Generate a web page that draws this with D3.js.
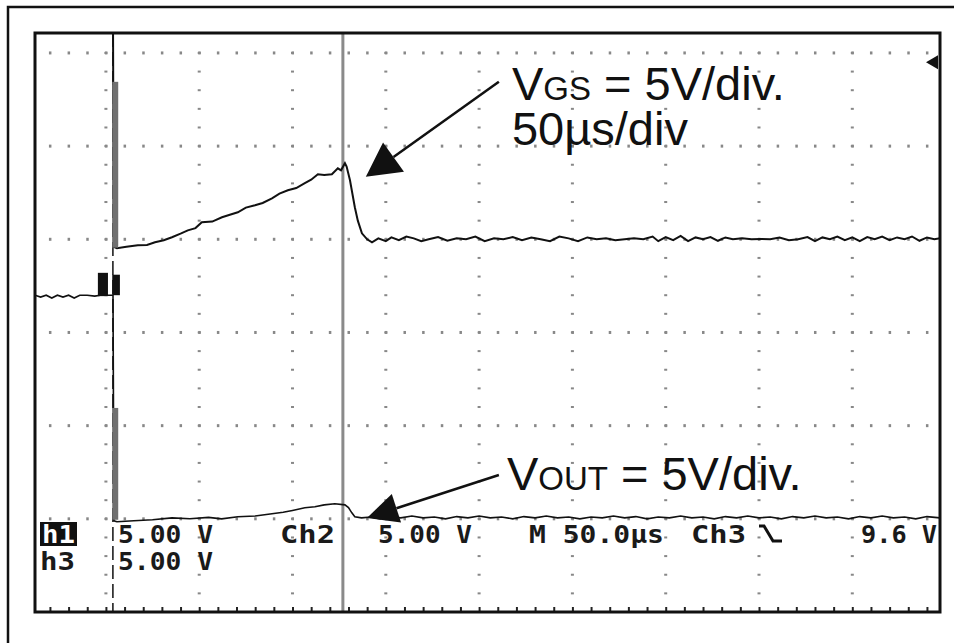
<!DOCTYPE html>
<html>
<head>
<meta charset="utf-8">
<script src="https://cdn.jsdelivr.net/npm/d3@7"></script>
<style>
  body { margin: 0; background: #fff; }
  svg { display: block; }
</style>
</head>
<body>
<div id="chart-container"></div>
<script>
// Time in µs (0 = first graticule line), values in volts
const vgsTrace = [
  [-38, 12], [3.8, 12], [4.2, -0.4], [5.9, -0.48], [11, -0.4], [17.1, -0.32], [22, -0.3],
  [26.3, -0.16], [31, -0.05], [35.4, 0.11], [40, 0.3], [43.9, 0.48], [48, 0.6], [51.4, 0.91],
  [57, 0.95], [62.2, 1.18], [66, 1.3], [70.7, 1.45], [75, 1.7], [79.9, 1.83], [84, 1.95],
  [89, 2.2], [93, 2.45], [97.5, 2.63], [102, 2.75], [106.6, 3.01], [110, 3.2], [113.6, 3.49],
  [117, 3.45], [121.1, 3.49], [124.3, 3.81], [126, 3.7], [128.1, 4.08], [129, 3.9],
  [130.8, 3.17], [133.4, 1.72], [135, 1.0], [137.2, 0.32], [140, 0.0], [142.6, -0.16],
  [146, 0.05], [150, -0.1], [153, 0.1], [157, -0.05], [161, 0.15], [165, 0.05], [169, -0.1],
  [173, 0.0], [178, 0.12], [183, -0.08], [188, 0.05], [193, 0.0], [198, 0.15], [203, -0.1],
  [208, 0.05], [213, 0.0], [218, 0.12], [223, -0.05], [228, 0.1], [233, 0.0], [238, -0.1],
  [243, 0.15], [248, 0.05], [253, -0.1], [258, 0.1], [263, 0.0], [268, 0.05], [273, -0.05],
  [278, 0.0], [283, 0.05], [288, 0.0], [293, 0.15], [296, -0.1], [300, 0.12], [304, -0.05],
  [308, 0.18], [312, -0.1], [316, 0.1], [320, 0.0], [324, 0.12], [328, -0.08], [332, 0.1],
  [336, 0.0], [341, 0.05], [346, 0.0], [351, 0.02], [356, 0.0], [361, 0.1], [366, -0.05],
  [371, 0.0], [376, 0.12], [380, -0.1], [384, 0.1], [388, 0.0], [392, 0.15], [396, -0.05],
  [400, 0.1], [404, -0.1], [408, 0.12], [412, 0.0], [416, 0.15], [420, -0.05], [424, 0.1],
  [428, 0.0], [432, 0.15], [436, -0.08], [440, 0.1], [444, 0.0], [447, 0.05]
];

const voutTrace = [
  [-38, 12.0], [-35, 11.9], [-32, 12.0], [-29, 11.85], [-26, 12.0], [-23, 11.9], [-20, 12.0],
  [-17, 11.85], [-14, 12.0], [-10, 12.0], [-6, 11.95], [-3, 12.0], [3.8, 12.0], [4.3, -0.11],
  [5.9, -0.16], [15, -0.1], [25, -0.05], [35.4, 0.05], [45, 0.0], [55, 0.08], [62, 0.0],
  [70.7, 0.11], [80, 0.15], [89, 0.27], [95, 0.35], [100, 0.45], [106.6, 0.59], [112, 0.65],
  [117, 0.75], [122.7, 0.81], [128.1, 0.75], [130, 0.6], [131.8, 0.32], [133.4, 0.11],
  [137, 0.05], [142, 0.1], [147, 0.0], [152, 0.12], [158, 0.05], [164, 0.15], [170, 0.05],
  [176, 0.1], [182, 0.0], [188, 0.12], [194, 0.05], [200, 0.15], [206, 0.05], [212, 0.1],
  [218, 0.0], [224, 0.12], [230, 0.05], [236, 0.15], [242, 0.05], [248, 0.1], [254, 0.0],
  [260, 0.1], [266, 0.05], [272, 0.15], [278, 0.05], [284, 0.12], [290, 0.0], [296, 0.1],
  [302, 0.05], [308, 0.15], [314, 0.05], [320, 0.1], [326, 0.0], [332, 0.12], [338, 0.05],
  [344, 0.15], [350, 0.05], [356, 0.1], [362, 0.0], [368, 0.12], [374, 0.05], [380, 0.15],
  [386, 0.05], [392, 0.1], [398, 0.0], [404, 0.12], [410, 0.05], [416, 0.15], [422, 0.05],
  [428, 0.1], [434, 0.0], [440, 0.12], [447, 0.05]
];

// graticule
const timeGrid = [0, 50, 100, 150, 200, 250, 300, 350, 400];
const divGrid = [1, 2, 3, 4, 5, 6];
const voltsPerDiv = 5;
const ch2Ground = 4;   // divisions
const ch3Ground = 1;
const cursorTime = 127;
const triggerTime = 3.75;

// scope readout
const readoutRow1 = ["h1", "5.00 V", "Ch2", "5.00 V", "M 50.0µs", "Ch3", "9.6 V"];
const readoutRow2 = ["h3", "5.00 V"];

// Chart dimensions
const width = 954, height = 643;
const box = { left: 35, top: 33, right: 940, bottom: 612 };

const svg = d3.select("#chart-container")
  .append("svg")
  .attr("width", width)
  .attr("height", height);

const x = d3.scaleLinear().domain([-38, 447]).range([box.left, box.right]);
const y = d3.scaleLinear().domain([0, 6.214]).range([box.bottom, box.top]);
const ch2 = v => ch2Ground + v / voltsPerDiv;
const ch3 = v => ch3Ground + v / voltsPerDiv;

// outer frame (only top/left visible)
svg.append("rect")
  .attr("x", 8).attr("y", 7)
  .attr("width", 980).attr("height", 680)
  .attr("fill", "none").attr("stroke", "#111").attr("stroke-width", 2.5);

svg.append("clipPath").attr("id", "clip")
  .append("rect")
  .attr("x", box.left).attr("y", box.top)
  .attr("width", box.right - box.left).attr("height", box.bottom - box.top);

const plot = svg.append("g").attr("clip-path", "url(#clip)");

// grid dots
const colDots = [];
timeGrid.forEach(t => {
  for (let k = 1; k <= 30; k++) colDots.push([t, k * 0.2]);
});
const rowDots = [];
divGrid.forEach(dv => {
  for (let t = -30; t <= 440; t += 10) rowDots.push([t, dv]);
});

plot.selectAll(".cdot").data(colDots).enter().append("rect")
  .attr("class", "cdot")
  .attr("x", d => x(d[0]) - 1.5).attr("y", d => y(d[1]) - 1)
  .attr("width", 3).attr("height", 2)
  .attr("fill", "#888");

plot.selectAll(".rdot").data(rowDots).enter().append("rect")
  .attr("class", "rdot")
  .attr("x", d => x(d[0]) - 1).attr("y", d => y(d[1]) - 1.5)
  .attr("width", 2.5).attr("height", 3)
  .attr("fill", "#888");

// bottom ticks
const tickVals = d3.range(-30, 441, 10);
const bottomAxis = svg.append("g")
  .attr("transform", `translate(0,${box.bottom})`)
  .call(d3.axisTop(x).tickValues(tickVals).tickSize(5).tickFormat(""));
bottomAxis.select(".domain").remove();
bottomAxis.selectAll("line").attr("stroke", "#222").attr("stroke-width", 2);

// cursor
plot.append("line")
  .attr("x1", x(cursorTime)).attr("x2", x(cursorTime))
  .attr("y1", box.top).attr("y2", box.bottom)
  .attr("stroke", "#8a8a8a").attr("stroke-width", 3);

// trigger position line
plot.append("line")
  .attr("x1", x(triggerTime)).attr("x2", x(triggerTime))
  .attr("y1", box.top).attr("y2", box.bottom)
  .attr("stroke", "#111").attr("stroke-width", 1.5)
  .attr("stroke-dasharray", "14,5");

// traces
const lineCh2 = d3.line().x(d => x(d[0])).y(d => y(ch2(d[1])));
const lineCh3 = d3.line().x(d => x(d[0])).y(d => y(ch3(d[1])));

plot.append("path").datum(vgsTrace)
  .attr("d", lineCh2)
  .attr("fill", "none").attr("stroke", "#111").attr("stroke-width", 2);

plot.append("path").datum(voutTrace)
  .attr("d", lineCh3)
  .attr("fill", "none").attr("stroke", "#111").attr("stroke-width", 1.6);

// bright vertical edges of the traces
const edgeGlow = [
  { t0: 3.4, t1: 6.6, d0: ch2(8.45), d1: ch2(-0.45) },
  { t0: 3.4, t1: 6.6, d0: ch3(5.95), d1: ch3(-0.05) }
];
plot.selectAll(".glow").data(edgeGlow).enter().append("rect")
  .attr("class", "glow")
  .attr("x", d => x(d.t0)).attr("width", d => x(d.t1) - x(d.t0))
  .attr("y", d => y(d.d0)).attr("height", d => y(d.d1) - y(d.d0))
  .attr("fill", "#707070");

// trigger marker blocks on the Ch3 trace
const trigBlocks = [
  { t0: -4.3, t1: 1.1, d0: 3.64, d1: 3.39 },
  { t0: 3.4, t1: 7.5, d0: 3.62, d1: 3.40 }
];
plot.selectAll(".tblk").data(trigBlocks).enter().append("rect")
  .attr("class", "tblk")
  .attr("x", d => x(d.t0)).attr("width", d => x(d.t1) - x(d.t0))
  .attr("y", d => y(d.d0)).attr("height", d => y(d.d1) - y(d.d0))
  .attr("fill", "#111");

// trigger level marker at right edge
const trigLevelDiv = 5.9;
svg.append("path")
  .attr("d", `M${box.right - 14},${y(trigLevelDiv)} l12,-7 l0,14 z`)
  .attr("fill", "#111");

// plot box
svg.append("rect")
  .attr("x", box.left).attr("y", box.top)
  .attr("width", box.right - box.left).attr("height", box.bottom - box.top)
  .attr("fill", "none").attr("stroke", "#111").attr("stroke-width", 3);

// annotation arrows
function arrow(tail, tip, headLen, headW) {
  const x0 = x(tail[0]), y0 = y(tail[1]), x1 = x(tip[0]), y1 = y(tip[1]);
  const dx = x0 - x1, dy = y0 - y1, len = Math.hypot(dx, dy);
  const ux = dx / len, uy = dy / len;
  const bx = x1 + ux * headLen, by = y1 + uy * headLen;
  svg.append("line")
    .attr("x1", x0).attr("y1", y0).attr("x2", bx).attr("y2", by)
    .attr("stroke", "#111").attr("stroke-width", 2.5);
  svg.append("path")
    .attr("d", `M${x1},${y1} L${bx - uy * headW / 2},${by + ux * headW / 2} L${bx + uy * headW / 2},${by - ux * headW / 2} Z`)
    .attr("fill", "#111");
}
arrow([210.6, 5.69], [139.3, 4.67], 34, 36);
arrow([210.6, 1.47], [139.9, 1.01], 31, 30);

// annotation text: one text element per label, lines as tspans
const annoFont = "'Liberation Sans', Arial, Helvetica, sans-serif";
function label(t, dv, lines, lineGap) {
  const txt = svg.append("text")
    .attr("x", x(t)).attr("y", y(dv))
    .attr("font-family", annoFont).attr("fill", "#111")
    .style("white-space", "pre");
  lines.forEach((parts, li) => {
    parts.forEach((p, pi) => {
      const ts = txt.append("tspan").attr("font-size", p[1]).text(p[0]);
      if (li > 0 && pi === 0) ts.attr("x", x(t)).attr("dy", lineGap);
    });
  });
}
label(217.6, 5.50, [[["V", 47], ["GS", 33], [" = 5V/div.", 47]], [["50µs/div", 47]]], 45);
label(214.9, 1.31, [[["V", 47], ["OUT", 33], [" = 5V/div.", 47]]], 0);

// scope readout
const monoFont = "'DejaVu Sans Mono', monospace";
const row1X = [42, 118, 280, 378, 529, 691, 861];
const row1W = [33, 95, 55, 94, 135, 55, 76];
const row2X = [40, 118];
const row2W = [35, 95];

svg.append("rect")
  .attr("x", 40).attr("y", 522).attr("width", 37).attr("height", 24)
  .attr("fill", "#111");

readoutRow1.forEach((s, i) => {
  svg.append("text")
    .attr("x", row1X[i]).attr("y", 543)
    .attr("font-family", monoFont).attr("font-size", 25).attr("font-weight", "bold")
    .attr("textLength", row1W[i]).attr("lengthAdjust", "spacingAndGlyphs")
    .attr("fill", i === 0 ? "#fff" : "#1a1a1a")
    .text(s);
});
readoutRow2.forEach((s, i) => {
  svg.append("text")
    .attr("x", row2X[i]).attr("y", 570)
    .attr("font-family", monoFont).attr("font-size", 25).attr("font-weight", "bold")
    .attr("textLength", row2W[i]).attr("lengthAdjust", "spacingAndGlyphs")
    .attr("fill", "#1a1a1a")
    .text(s);
});

// falling-slope symbol after Ch3
svg.append("path")
  .attr("d", "M759,526 h5 L773,541 h9")
  .attr("fill", "none").attr("stroke", "#111").attr("stroke-width", 3);
</script>
</body>
</html>
